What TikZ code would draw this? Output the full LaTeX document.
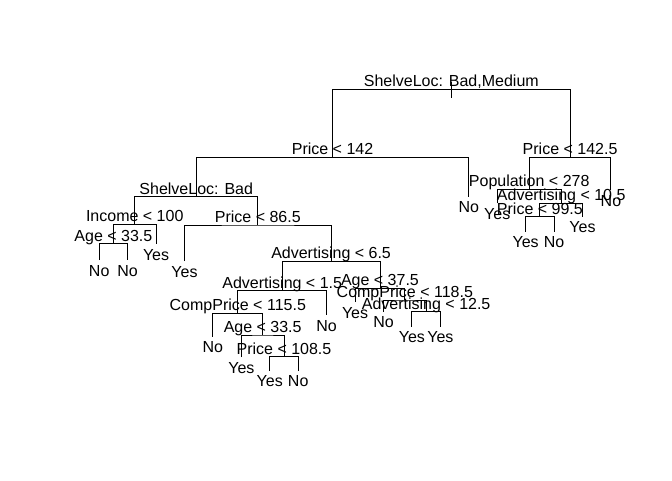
\documentclass[tikz,border=0pt]{standalone}
\usepackage{fontspec}
\setmainfont{Liberation Sans}
\begin{document}
\begin{tikzpicture}[x=1pt,y=-1pt,line width=0.9pt,
  lab/.style={anchor=base,inner sep=0pt,font=\fontsize{16}{19}\selectfont},
  splitlab/.style={lab,yshift=2.7pt},
  leaflab/.style={lab,yshift=-16.25pt},
  branch/.style={draw=black,line width=0.9pt}]
\useasboundingbox (0,0) rectangle (672,480);
% internal nodes
\coordinate (root)   at (451.3,89.3);
\coordinate (rtop)   at (451.3,82);
\coordinate (rbot)   at (451.3,98);
\coordinate (p142)   at (332.53,157.3);
\coordinate (p1425)  at (570.07,157.3);
\coordinate (shb)    at (196.26,196.7);
\coordinate (inc)    at (134.74,224.3);
\coordinate (p865)   at (257.79,225);
\coordinate (agea)   at (113.415,243.8);
\coordinate (adv65)  at (331.08,261.5);
\coordinate (adv15)  at (282.22,290.7);
\coordinate (age375) at (379.95,288.3);
\coordinate (cp1155) at (237.8,313.3);
\coordinate (ageb)   at (262.67,335);
\coordinate (p1085)  at (283.995,356.7);
\coordinate (cp1185) at (404.82,300);
\coordinate (adv125) at (426.15,311.7);
\coordinate (pop)    at (529.2,189.3);
\coordinate (adv105) at (561.19,203.3);
\coordinate (p995)   at (539.87,216.7);
% leaves
\coordinate (l1)  at (99.2,260);
\coordinate (l2)  at (127.63,260);
\coordinate (l3)  at (156.06,243.8);
\coordinate (l4)  at (184.49,261);
\coordinate (l5)  at (212.92,336.7);
\coordinate (l6)  at (241.35,357);
\coordinate (l7)  at (269.78,370.7);
\coordinate (l8)  at (298.21,370.7);
\coordinate (l9)  at (326.64,315);
\coordinate (l10) at (355.07,302);
\coordinate (l11) at (383.5,311.7);
\coordinate (l12) at (411.93,326.7);
\coordinate (l13) at (440.36,326.7);
\coordinate (l14) at (468.79,196.7);
\coordinate (l15) at (497.22,203.3);
\coordinate (l16) at (525.65,231.7);
\coordinate (l17) at (554.08,231.7);
\coordinate (l18) at (582.51,216.7);
\coordinate (l19) at (610.94,190);
% branches
\draw[branch] (rtop) -- (rbot);
\draw[branch] (p142) |- (root) -| (p1425);
\draw[branch] (shb) |- (p142) -| (l14);
\draw[branch] (pop) |- (p1425) -| (l19);
\draw[branch] (inc) |- (shb) -| (p865);
\draw[branch] (agea) |- (inc) -| (l3);
\draw[branch] (l1) |- (agea) -| (l2);
\draw[branch] (l4) |- (p865) -| (adv65);
\draw[branch] (adv15) |- (adv65) -| (age375);
\draw[branch] (cp1155) |- (adv15) -| (l9);
\draw[branch] (l5) |- (cp1155) -| (ageb);
\draw[branch] (l6) |- (ageb) -| (p1085);
\draw[branch] (l7) |- (p1085) -| (l8);
\draw[branch] (l10) |- (age375) -| (cp1185);
\draw[branch] (l11) |- (cp1185) -| (adv125);
\draw[branch] (l12) |- (adv125) -| (l13);
\draw[branch] (l15) |- (pop) -| (adv105);
\draw[branch] (p995) |- (adv105) -| (l18);
\draw[branch] (l16) |- (p995) -| (l17);
% split labels
\node[splitlab] (troot)   at (root)   {ShelveLoc: Bad,Medium};
\node[splitlab] (tp142)   at (p142)   {Price < 142};
\node[splitlab] (tp1425)  at (p1425)  {Price < 142.5};
\node[splitlab] (tshb)    at (shb)    {ShelveLoc: Bad};
\node[splitlab] (tinc)    at (inc)    {Income < 100};
\node[splitlab] (tp865)   at (p865)   {Price < 86.5};
\node[splitlab] (tagea)   at (agea)   {Age < 33.5};
\node[splitlab] (tadv65)  at (adv65)  {Advertising < 6.5};
\node[splitlab] (tadv15)  at (adv15)  {Advertising < 1.5};
\node[splitlab] (tage375) at (age375) {Age < 37.5};
\node[splitlab] (tcp1155) at (cp1155) {CompPrice < 115.5};
\node[splitlab] (tageb)   at (ageb)   {Age < 33.5};
\node[splitlab] (tp1085)  at (p1085)  {Price < 108.5};
\node[splitlab] (tcp1185) at (cp1185) {CompPrice < 118.5};
\node[splitlab] (tadv125) at (adv125) {Advertising < 12.5};
\node[splitlab] (tpop)    at (pop)    {Population < 278};
\node[splitlab] (tadv105) at (adv105) {Advertising < 10.5};
\node[splitlab] (tp995)   at (p995)   {Price < 99.5};
% leaf labels
\node[leaflab] (t1)  at (l1)  {No};
\node[leaflab] (t2)  at (l2)  {No};
\node[leaflab] (t3)  at (l3)  {Yes};
\node[leaflab] (t4)  at (l4)  {Yes};
\node[leaflab] (t5)  at (l5)  {No};
\node[leaflab] (t6)  at (l6)  {Yes};
\node[leaflab] (t7)  at (l7)  {Yes};
\node[leaflab] (t8)  at (l8)  {No};
\node[leaflab] (t9)  at (l9)  {No};
\node[leaflab] (t10) at (l10) {Yes};
\node[leaflab] (t11) at (l11) {No};
\node[leaflab] (t12) at (l12) {Yes};
\node[leaflab] (t13) at (l13) {Yes};
\node[leaflab] (t14) at (l14) {No};
\node[leaflab] (t15) at (l15) {Yes};
\node[leaflab] (t16) at (l16) {Yes};
\node[leaflab] (t17) at (l17) {No};
\node[leaflab] (t18) at (l18) {Yes};
\node[leaflab] (t19) at (l19) {No};
\end{tikzpicture}
\end{document}
